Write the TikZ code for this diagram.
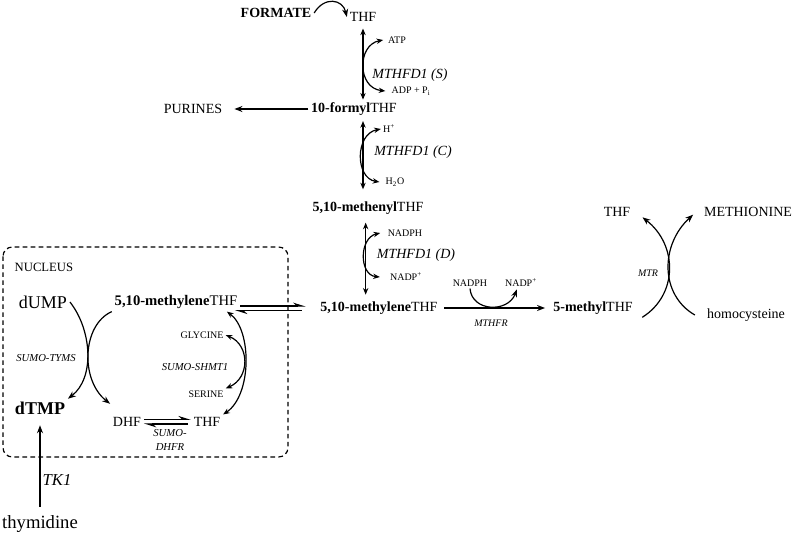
\documentclass[tikz,border=0pt]{standalone}
\usepackage{fontspec}
\setmainfont{Liberation Serif}
\usepackage{tikz}
\usetikzlibrary{arrows.meta}

\begin{document}
\begin{tikzpicture}[x=0.75pt,y=-0.75pt,
  met/.style={font=\fontsize{10.5}{12}\selectfont, inner sep=2pt},
  cof/.style={font=\fontsize{7.5}{9}\selectfont, inner sep=1.5pt},
  enz/.style={font=\itshape\fontsize{10.5}{12}\selectfont},
  enzs/.style={font=\itshape\fontsize{8}{10.5}\selectfont, align=center},
  big/.style={font=\fontsize{13.5}{16}\selectfont, inner sep=2pt},
  rxn/.style={line width=0.9pt, -{Stealth[length=6pt,width=4.5pt]}},
  rev/.style={line width=0.9pt, {Stealth[length=5pt,width=4pt]}-{Stealth[length=5pt,width=4pt]}},
  harp/.style={line width=0.8pt, -{Stealth[harpoon,length=8pt,width=5pt]}},
  nucbox/.style={line width=0.9pt, dash pattern=on 3.5pt off 2.5pt, rounded corners=7pt}
]
  \useasboundingbox (0,0) rectangle (794,534);

  % cytosol
  \node[met] (formate) at (276,13) {\textbf{FORMATE}};
  \node[met] (thf) at (363,17) {THF};
  \node[met] (formyl) at (354,109) {\textbf{10-formyl}THF};
  \node[met] (purines) at (193,109) {PURINES};
  \node[cof] (atp) at (397,40) {ATP};
  \node[cof] (adp) at (411,91) {ADP + P\textsubscript{i}};
  \node[enz] (mthfds) at (410,75) {MTHFD1 (S)};
  \node[cof] (hplus) at (389,129) {H\textsuperscript{+}};
  \node[enz] (mthfdc) at (413,152) {MTHFD1 (C)};
  \node[cof] (water) at (395,182) {H\textsubscript{2}O};
  \node[met] (methenyl) at (368,208) {\textbf{5,10-methenyl}THF};
  \node[cof] (nadph) at (405,233) {NADPH};
  \node[enz] (mthfdd) at (416,255) {MTHFD1 (D)};
  \node[cof] (nadp) at (406,277) {NADP\textsuperscript{+}};
  \node[met] (mtc) at (379,308) {\textbf{5,10-methylene}THF};
  \node[cof] (nadph2) at (470,283) {NADPH};
  \node[cof] (nadp2) at (521,283) {NADP\textsuperscript{+}};
  \node[enzs, font=\itshape\fontsize{7.5}{9}\selectfont] (mthfr) at (491,323) {MTHFR};
  \node[met] (methyl) at (593,308) {\textbf{5-methyl}THF};
  \node[met] (thfm) at (617,212) {THF};
  \node[met] (methionine) at (748,212) {METHIONINE};
  \node[met] (homocys) at (746,315) {homocysteine};
  \node[enzs, font=\itshape\fontsize{7.5}{9}\selectfont] (mtr) at (648,273) {MTR};

  % nucleus
  \draw[nucbox] (3,247) rectangle (288,457);
  \node[anchor=west, font=\fontsize{9.5}{11}\selectfont] (nucleus) at (10,267) {NUCLEUS};
  \node[big] (dump) at (43,302) {dUMP};
  \node[met, font=\fontsize{11}{13}\selectfont] (mtn) at (176,302) {\textbf{5,10-methylene}THF};
  \node[big] (dtmp) at (40,408) {\textbf{dTMP}};
  \node[enzs] (tyms) at (46,358) {SUMO-TYMS};
  \node[met] (dhf) at (127,422) {DHF};
  \node[met] (thfn) at (207,422) {THF};
  \node[enzs] (dhfr) at (170,440) {SUMO-\\DHFR};
  \node[cof] (glycine) at (202,335) {GLYCINE};
  \node[enzs] (shmt) at (195,367) {SUMO-SHMT1};
  \node[cof] (serine) at (206,394) {SERINE};
  \node[font=\itshape\fontsize{12.5}{14}\selectfont] (tk) at (57,480) {TK1};
  \node[font=\fontsize{14}{16}\selectfont] (thymidine) at (40,524) {thymidine};

  % connectors, cytosol
  \draw[rxn] (formate.east) .. controls +(10,-17) and +(-4,-18) .. (thf.west);
  \draw[rev, shorten <=3pt] (thf.south) -- (thf.south |- formyl.north);
  \draw[rev] ([xshift=-2pt]atp.west) .. controls (357,45) and (357,88) .. ([xshift=-3pt]adp.west);
  \draw[rxn, shorten >=7pt] (formyl.west) -- (purines.east);
  \draw[rev, shorten <=2pt, shorten >=7pt] (thf.south |- formyl.south) -- (thf.south |- methenyl.north);
  \draw[rev] (hplus.west) .. controls (355,134) and (355,178) .. ([xshift=-3pt]water.west);
  \draw[rev, shorten <=4pt, shorten >=3pt] ([xshift=2pt]thf.south |- methenyl.south) -- ([xshift=2pt]thf.south |- mtc.north);
  \draw[rev] ([xshift=-4pt]nadph.west) .. controls (359,238) and (359,275) .. ([xshift=-6pt]nadp.west);
  \draw[rxn, shorten <=3pt, shorten >=4pt] (mtc.east) -- (methyl.west);
  \draw[rxn] (nadph2.south) .. controls (472,312) and (508,313) .. ([xshift=-3pt]nadp2.south);
  \draw[rxn] ([xshift=5pt]methyl.south east) .. controls (678,295) and (678,245) .. ([xshift=7pt,yshift=-4pt]thfm.east);
  \draw[rxn] ([xshift=-7pt]homocys.west) .. controls (660,295) and (660,245) .. ([xshift=-6pt,yshift=-2pt]methionine.west);

  % connectors, nucleus
  \draw[harp] ([yshift=-3pt]mtn.east) -- ([xshift=-9pt,yshift=1.5pt]mtc.west);
  \draw[harp] ([xshift=-12pt,yshift=-2pt]mtc.west) -- ([xshift=-4pt,yshift=-6.5pt]mtn.east);
  \draw[rxn] (dump.east) .. controls (92,330) and (95,378) .. (dtmp.north east);
  \draw[rxn] (mtn.south west) .. controls (82,325) and (80,380) .. ([yshift=8pt]dhf.north west);
  \draw[harp] ([yshift=2pt]dhf.east) -- ([yshift=2pt]thfn.west);
  \draw[harp] ([xshift=-2pt,yshift=-1.5pt]thfn.west) -- ([yshift=-1.5pt]dhf.east);
  \draw[rev] ([xshift=-10pt]mtn.south east) .. controls (252,330) and (252,395) .. (thfn.north east);
  \draw[rev] (glycine.east) .. controls (250,345) and (250,378) .. (serine.north east);
  \draw[rxn, shorten <=3pt] (thymidine.north) -- ([yshift=-6pt]dtmp.south);
\end{tikzpicture}
\end{document}
